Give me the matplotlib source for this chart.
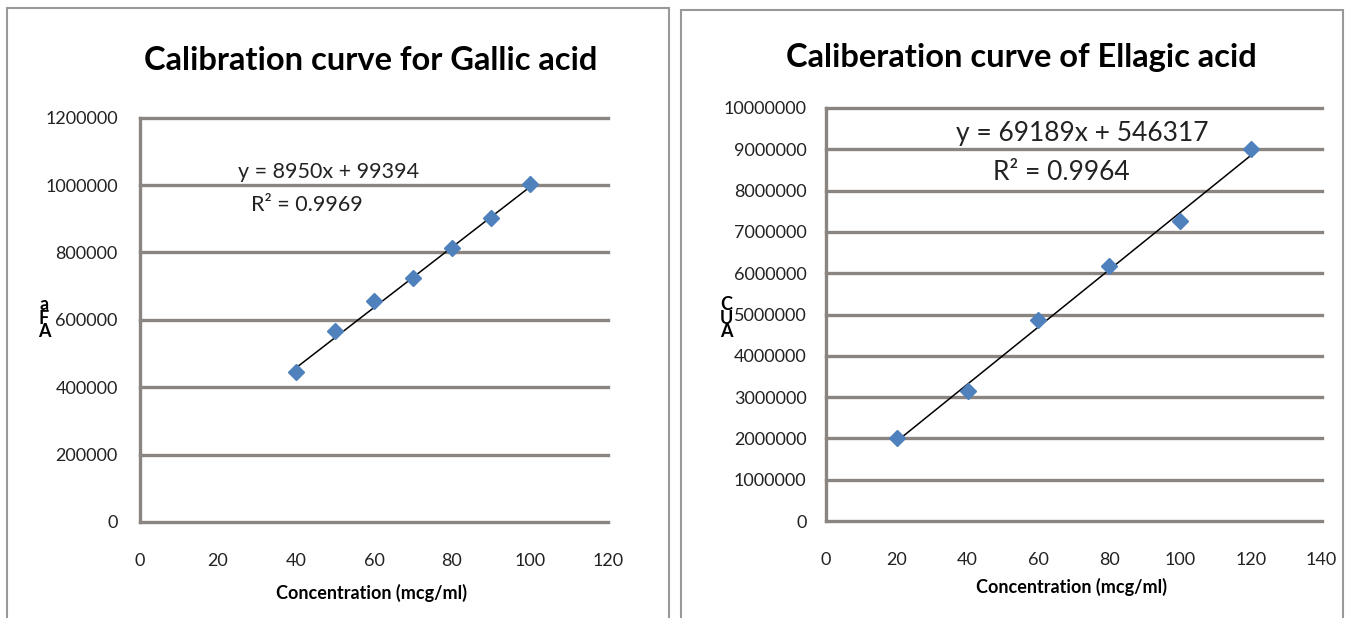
import matplotlib.pyplot as plt
from matplotlib.patches import Rectangle
import numpy as np

# Gallic acid calibration
gallic_conc = [40, 50, 60, 70, 80, 90, 100]
gallic_area = [445000, 566000, 657000, 723000, 812000, 902000, 1002000]
gallic_slope, gallic_icpt, gallic_r2 = 8950, 99394, 0.9969
gallic_yticks = [0, 200000, 400000, 600000, 800000, 1000000, 1200000]
gallic_xticks = [0, 20, 40, 60, 80, 100, 120]

# Ellagic acid calibration
ellagic_conc = [20, 40, 60, 80, 100, 120]
ellagic_area = [2020000, 3150000, 4860000, 6170000, 7270000, 9000000]
ellagic_slope, ellagic_icpt, ellagic_r2 = 69189, 546317, 0.9964
ellagic_yticks = list(range(0, 10000001, 1000000))
ellagic_xticks = [0, 20, 40, 60, 80, 100, 120, 140]

W, H = 1345, 618
FONT = 'Lato'
GRID = '#8a8580'
MARK = '#4f81bd'

fig = plt.figure(figsize=(W / 100, H / 100), dpi=100)
fig.patch.set_facecolor('white')


def px(x0, y0, x1, y1):
    # pixel box (top-left origin) -> figure fraction
    return [x0 / W, 1 - y1 / H, (x1 - x0) / W, (y1 - y0) / H]


def panel(box, conc, area, slope, icpt, yticks, xticks, tsize, ypad):
    ax = fig.add_axes(px(*box))
    ax.set_xlim(xticks[0], xticks[-1])
    ax.set_ylim(yticks[0], yticks[-1])
    for v in yticks:
        ax.axhline(v, color=GRID, lw=2.4, clip_on=False, zorder=1)
    for s in ['top', 'right', 'bottom']:
        ax.spines[s].set_visible(False)
    ax.spines['left'].set_color(GRID)
    ax.spines['left'].set_linewidth(2.4)
    ax.set_yticks(yticks)
    ax.set_yticklabels([str(v) for v in yticks], fontfamily=FONT, fontsize=tsize,
                       color='#222222')
    ax.set_xticks(xticks)
    ax.set_xticklabels([str(v) for v in xticks], fontfamily=FONT, fontsize=tsize,
                       color='#222222')
    ax.tick_params(axis='y', length=0, pad=ypad)
    ax.tick_params(axis='x', length=0, pad=22)
    xs = np.array([conc[0], conc[-1]])
    ax.plot(xs, slope * xs + icpt, color='black', lw=1.1, zorder=3)
    ax.plot(conc, area, 'D', color=MARK, markersize=8, zorder=4)
    return ax


panel((140, 117.6, 608, 522), gallic_conc, gallic_area, gallic_slope, gallic_icpt,
      gallic_yticks, gallic_xticks, 13, 16)
panel((826, 108, 1321.5, 521), ellagic_conc, ellagic_area, ellagic_slope, ellagic_icpt,
      ellagic_yticks, ellagic_xticks, 13, 14)

# panel frames
fig.patches.append(Rectangle((7 / W, -0.05), 662 / W, 1.05 - 8 / H, transform=fig.transFigure,
                             fill=False, edgecolor='#999999', lw=1.5))
fig.patches.append(Rectangle((681 / W, -0.05), 662 / W, 1.05 - 10 / H, transform=fig.transFigure,
                             fill=False, edgecolor='#999999', lw=1.5))

# titles
fig.text(371 / W, 1 - 60 / H, 'Calibration curve for Gallic acid', ha='center', va='center',
         fontfamily=FONT, fontweight='bold', fontsize=23.5)
fig.text(1021 / W, 1 - 57 / H, 'Caliberation curve of Ellagic acid', ha='center', va='center',
         fontfamily=FONT, fontweight='bold', fontsize=23.5)

# equations
fig.text(329 / W, 1 - 172 / H, f'y = {gallic_slope}x + {gallic_icpt}', ha='center', va='center',
         fontfamily=FONT, fontsize=15.5, color='#222222')
fig.text(307 / W, 1 - 205 / H, f'R² = {gallic_r2}', ha='center', va='center',
         fontfamily=FONT, fontsize=15.5, color='#222222')
fig.text(1082 / W, 1 - 134 / H, f'y = {ellagic_slope}x + {ellagic_icpt}', ha='center', va='center',
         fontfamily=FONT, fontsize=19, color='#222222')
fig.text(1061 / W, 1 - 172 / H, f'R² = {ellagic_r2}', ha='center', va='center',
         fontfamily=FONT, fontsize=19, color='#222222')

# axis labels
fig.text(372 / W, 1 - 593 / H, 'Concentration (mcg/ml)', ha='center', va='center',
         fontfamily=FONT, fontweight='bold', fontsize=13)
fig.text(1072 / W, 1 - 587 / H, 'Concentration (mcg/ml)', ha='center', va='center',
         fontfamily=FONT, fontweight='bold', fontsize=13)
fig.text(44 / W, 1 - 318 / H, 'a\nF\nA', ha='center', va='center', linespacing=0.75,
         fontfamily=FONT, fontweight='bold', fontsize=13)
fig.text(726 / W, 1 - 318 / H, 'C\nU\nA', ha='center', va='center', linespacing=0.75,
         fontfamily=FONT, fontweight='bold', fontsize=13)

fig.savefig('out.png', dpi=100)
